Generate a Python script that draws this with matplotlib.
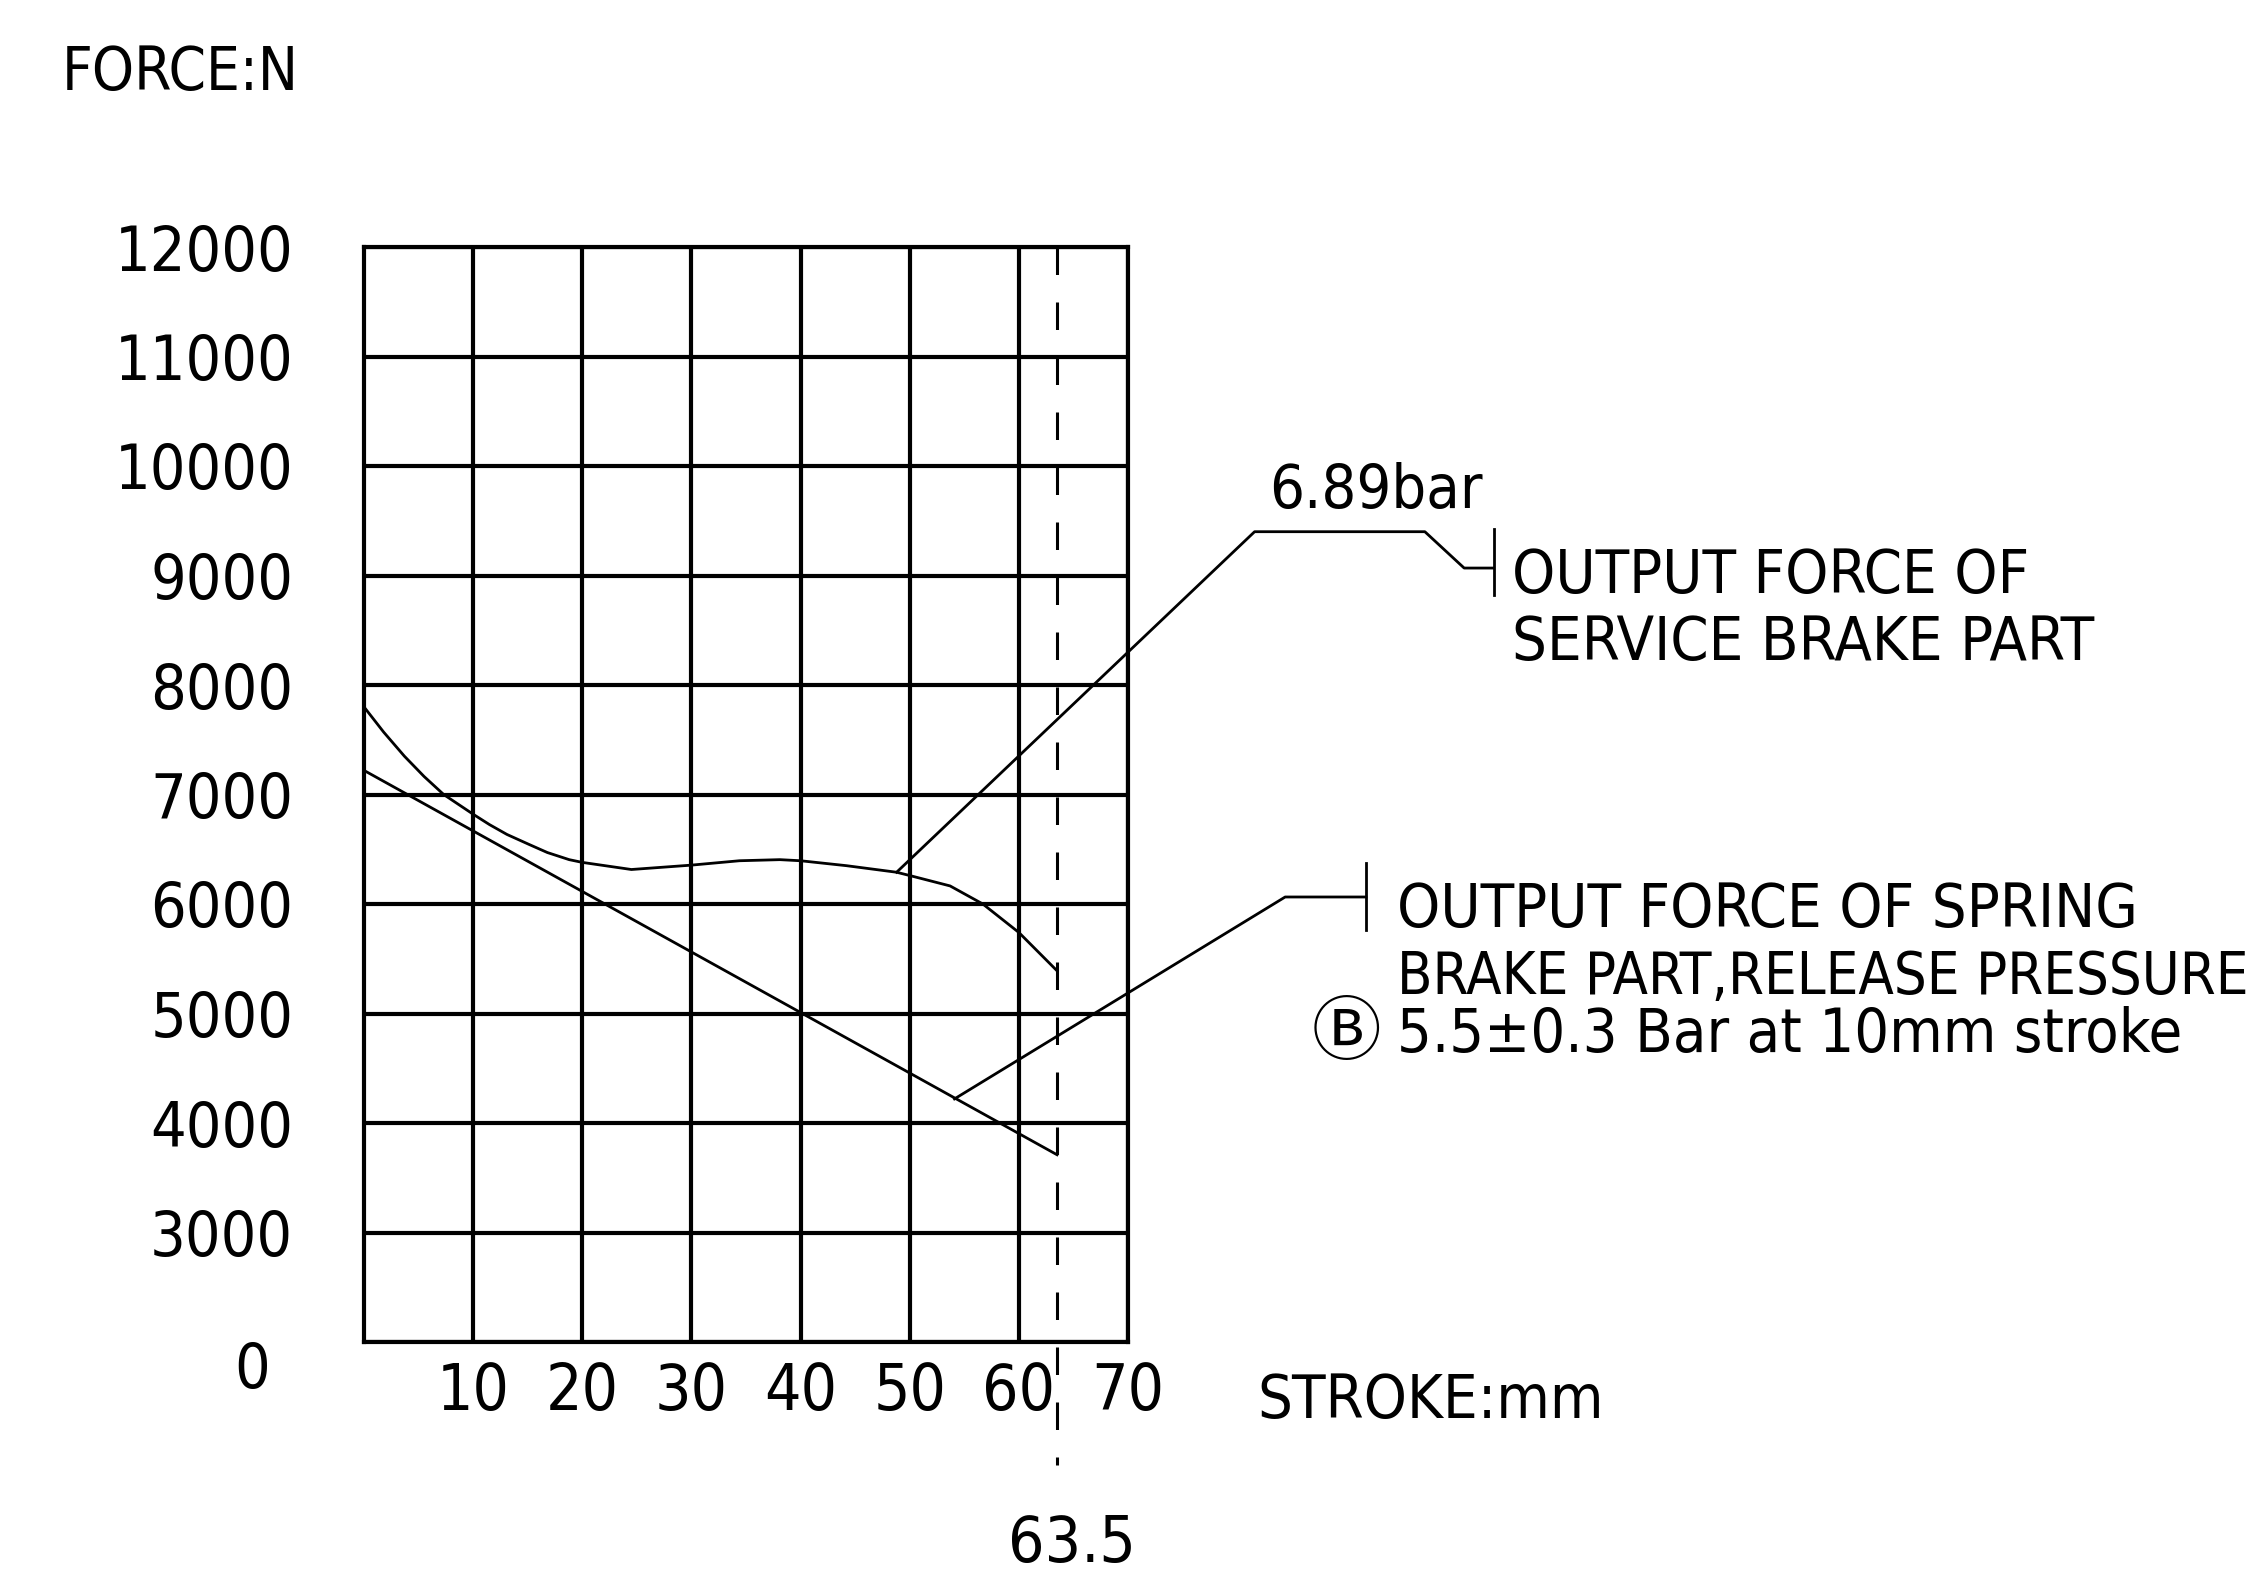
import matplotlib
matplotlib.use("Agg")
import matplotlib.pyplot as plt

# ---------------------------------------------------------------- data
stroke_service = [0, 1.8, 3.7, 5.5, 7.3, 10, 11.5, 13.1, 15.1, 16.8, 18.8, 20, 24.5, 30,
                  34.4, 38.1, 40, 44.2, 48.8, 50, 53.7, 56.7, 60, 63.5]
force_service = [7800, 7570, 7350, 7165, 7000, 6820, 6725, 6635, 6545, 6470, 6405, 6380, 6315, 6355,
                 6395, 6405, 6395, 6350, 6290, 6260, 6165, 6000, 5740, 5390]

stroke_spring = [0, 63.5]
force_spring = [7220, 3710]

stroke_max = 63.5
x_ticks = [10, 20, 30, 40, 50, 60, 70]
y_ticks = [2000, 3000, 4000, 5000, 6000, 7000, 8000, 9000, 10000, 11000, 12000]
y_labels = ["", "3000", "4000", "5000", "6000", "7000", "8000", "9000", "10000", "11000", "12000"]

# ---------------------------------------------------------------- style
W, H = 2265, 1572
FONT = ["DejaVu Sans", "Noto Sans CJK JP"]   # CJK font only for the circled B
plt.rcParams["font.family"] = FONT
STRETCH = "condensed"
TXT = 44
LW_GRID = 3.0
LW_CURVE = 2.0

fig = plt.figure(figsize=(W / 100, H / 100), dpi=100)
ax = fig.add_axes([364 / W, 1 - 1342 / H, (1128 - 364) / W, (1342 - 247) / H])

ax.set_xlim(0, 70)
ax.set_ylim(2000, 12000)
ax.set_xticks(x_ticks)
ax.set_yticks(y_ticks)
ax.set_yticklabels(y_labels, fontstretch=STRETCH)
ax.set_xticklabels([str(t) for t in x_ticks], fontstretch=STRETCH)
ax.tick_params(axis="y", length=0, pad=51, labelsize=45)
ax.tick_params(axis="x", length=0, pad=14, labelsize=46)
ax.grid(True, color="black", linewidth=LW_GRID)
for sp in ax.spines.values():
    sp.set_linewidth(LW_GRID)
ax.set_axisbelow(True)

# curves
ax.plot(stroke_service, force_service, color="black", lw=LW_CURVE, zorder=3)
ax.plot(stroke_spring, force_spring, color="black", lw=LW_CURVE, zorder=3)

# full stroke marker
ax.plot([stroke_max, stroke_max], [12000, 880], color="black", lw=2.2,
        dashes=(9, 9), clip_on=False, zorder=3)

# leader lines (data coords)
ax.plot([48.8, 81.6, 97.2, 100.8, 103.5], [6290, 9400, 9400, 9068, 9068],
        color="black", lw=LW_CURVE, clip_on=False)
ax.plot([103.5, 103.5], [9427, 8822], color="black", lw=LW_CURVE, clip_on=False)
ax.plot([54.1, 84.4, 91.8], [4220, 6064, 6064], color="black", lw=LW_CURVE, clip_on=False)
ax.plot([91.8, 91.8], [6374, 5758], color="black", lw=LW_CURVE, clip_on=False)


def label(x, y, s, size=TXT, ha="left"):
    # x, y in figure pixels from top left, y is the text baseline
    fig.text(x / W, 1 - y / H, s, fontsize=size, ha=ha, va="baseline",
             family=FONT, fontstretch=STRETCH)


label(62, 90, "FORCE:N", 43)
label(270, 1388, "0", 45, ha="right")
label(1257, 1418, "STROKE:mm")
label(1072, 1562, "63.5", 46, ha="center")
label(1269, 508, "6.89bar")
label(1512, 593, "OUTPUT FORCE OF")
label(1512, 660, "SERVICE BRAKE PART")
label(1397, 927, "OUTPUT FORCE OF SPRING")
label(1397, 994, "BRAKE PART,RELEASE PRESSURE", 41.5)
label(1312, 1054, "\u24B7", 50)
label(1397, 1052, "5.5\u00B10.3 Bar at 10mm stroke")

fig.savefig("out.png", dpi=100, facecolor="white")
